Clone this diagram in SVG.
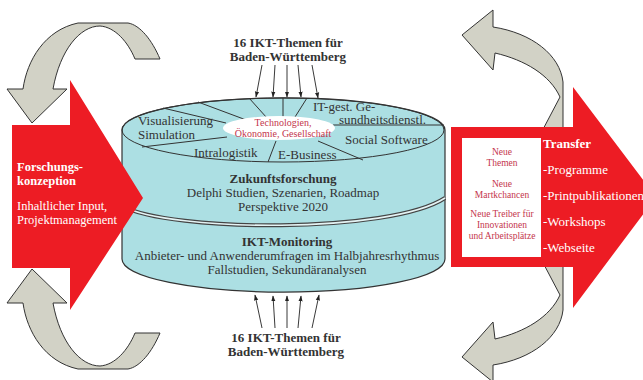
<svg xmlns="http://www.w3.org/2000/svg" width="643" height="380" viewBox="0 0 643 380">
  <defs>
    <style>
      .loop { fill: #d2d2c6; stroke: #333; stroke-width: 1; }
      .red { fill: #ed1c24; }
      .cyl { fill: #acdfe3; stroke: #333; stroke-width: 1.2; }
      .seg { fill: none; stroke: #333; stroke-width: 1; }
      .t { font-family: "Liberation Serif", serif; font-size: 13px; fill: #333; }
      .s { font-size: 12.5px; }
      .b { font-weight: bold; }
      .w { fill: #fff; }
      .r { font-family: "Liberation Serif", serif; fill: #c4354c; }
      .conn line { stroke: #222; stroke-width: 0.9; marker-end: url(#tip); }
    </style>
    <marker id="tip" viewBox="0 0 10 10" refX="9" refY="5" markerWidth="6" markerHeight="6" markerUnits="userSpaceOnUse" orient="auto">
      <path d="M0,1.5 L10,5 L0,8.5 Z" fill="#222"/>
    </marker>
    <path id="loopL" d="M32,123 L7,89 L23,89 C27,60 45,30 78,23 L128,23 C140,25 152,40 160,59 L135,59 C128,42 115,27 100,26 C80,26 60,50 53,89 L67,89 Z"/>
    <path id="loopR" d="M462,35 L493,10 L493,27 C532,33 560,55 563,82 L563,135 L540,135 L560,97 C550,75 525,60 495,53 L493,70 Z"/>
  </defs>

  <!-- grey feedback loops -->
  <g id="loop-left-top"><use href="#loopL" class="loop"/></g>
  <g id="loop-left-bottom"><use href="#loopL" class="loop" transform="translate(0,392) scale(1,-1)"/></g>
  <g id="loop-right-top"><use href="#loopR" class="loop"/></g>
  <g id="loop-right-bottom"><use href="#loopR" class="loop" transform="translate(0,392) scale(1,-1)"/></g>

  <!-- central cylinder -->
  <g id="cylinder">
    <path class="cyl" d="M122,130 L122,259 A161,33 0 0 0 445,259 L445,130 A161,32 0 0 0 122,130 Z"/>
    <ellipse class="seg" cx="283" cy="130" rx="161" ry="32"/>
    <!-- segment dividers on the lid -->
    <line class="seg" x1="163" y1="108" x2="226" y2="123"/>
    <line class="seg" x1="198" y1="102" x2="249" y2="121"/>
    <line class="seg" x1="249" y1="98" x2="267" y2="118"/>
    <line class="seg" x1="283" y1="98" x2="283" y2="117"/>
    <line class="seg" x1="307" y1="98" x2="295" y2="117"/>
    <line class="seg" x1="142" y1="147" x2="227" y2="137"/>
    <line class="seg" x1="276" y1="141" x2="268" y2="162"/>
    <line class="seg" x1="333" y1="125" x2="444" y2="125"/>
    <line class="seg" x1="318" y1="141" x2="363" y2="160"/>
    <ellipse cx="279" cy="128" rx="56" ry="12" fill="#fff"/>
    <!-- double separator between the two layers -->
    <path d="M122,206 C170,232 390,234 445,198" fill="none" stroke="#444" stroke-width="4"/>
    <path d="M122,206 C170,232 390,234 445,198" fill="none" stroke="#e4f3f4" stroke-width="1.6"/>

    <text class="r" font-size="10" text-anchor="middle" x="283" y="125.5">Technologien,</text>
    <text class="r" font-size="10" text-anchor="middle" x="283" y="136.5">Ökonomie, Gesellschaft</text>
    <text class="t" font-size="12" x="138" y="125">Visualisierung</text>
    <text class="t" font-size="12" x="138" y="139">Simulation</text>
    <text class="t" x="194" y="157">Intralogistik</text>
    <text class="t" x="278" y="159">E-Business</text>
    <text class="t" x="313" y="110.5">IT-gest. Ge-</text>
    <text class="t" x="339" y="124">sundheitsdienstl.</text>
    <text class="t" x="345" y="144">Social Software</text>

    <text class="t b" text-anchor="middle" x="283" y="183">Zukunftsforschung</text>
    <text class="t" text-anchor="middle" x="283" y="197">Delphi Studien, Szenarien, Roadmap</text>
    <text class="t" text-anchor="middle" x="283" y="211">Perspektive 2020</text>
    <text class="t b" text-anchor="middle" x="287" y="246">IKT-Monitoring</text>
    <text class="t" text-anchor="middle" x="287" y="260">Anbieter- und Anwenderumfragen im Halbjahresrhythmus</text>
    <text class="t" text-anchor="middle" x="287" y="274">Fallstudien, Sekundäranalysen</text>
  </g>

  <!-- input arrow: research conception -->
  <g id="forschungskonzeption">
    <polygon class="red" points="12,125 70,125 70,80 143,198 70,310 70,268 12,268"/>
    <text class="t s b w" x="17" y="171">Forschungs-</text>
    <text class="t s b w" x="17" y="185">konzeption</text>
    <text class="t s w" x="17" y="210">Inhaltlicher Input,</text>
    <text class="t s w" x="17" y="224">Projektmanagement</text>
  </g>

  <!-- output arrow: transfer -->
  <g id="transfer">
    <polygon class="red" points="451,127 573,127 573,87 656,197 573,308 573,267 451,267"/>
    <rect x="462" y="138" width="79" height="119" fill="#fff"/>
    <g class="r" font-size="9.5" text-anchor="middle">
      <text x="502" y="155">Neue</text>
      <text x="502" y="166">Themen</text>
      <text x="502" y="186.5">Neue</text>
      <text x="502" y="197.5">Martkchancen</text>
      <text x="502" y="217">Neue Treiber für</text>
      <text x="502" y="228">Innovationen</text>
      <text x="502" y="239">und Arbeitsplätze</text>
    </g>
    <text class="t b w" x="543" y="148">Transfer</text>
    <text class="t w" x="543" y="174">-Programme</text>
    <text class="t w" x="543" y="200">-Printpublikationen</text>
    <text class="t w" x="543" y="226">-Workshops</text>
    <text class="t w" x="543" y="252">-Webseite</text>
  </g>

  <!-- topic sources -->
  <g id="themen-oben">
    <text class="t b" font-size="12" text-anchor="middle" x="288" y="47">16 IKT-Themen für</text>
    <text class="t b" font-size="12" text-anchor="middle" x="288" y="61">Baden-Württemberg</text>
  </g>
  <g id="themen-unten">
    <text class="t b" font-size="12" text-anchor="middle" x="286" y="342">16 IKT-Themen für</text>
    <text class="t b" font-size="12" text-anchor="middle" x="286" y="356">Baden-Württemberg</text>
  </g>

  <g id="connectors" class="conn">
    <line x1="262" y1="65" x2="256" y2="97"/>
    <line x1="275" y1="65" x2="273" y2="97"/>
    <line x1="287" y1="65" x2="287" y2="97"/>
    <line x1="298" y1="65" x2="301" y2="97"/>
    <line x1="312" y1="65" x2="318" y2="98"/>
    <line x1="262" y1="328" x2="255" y2="295"/>
    <line x1="275" y1="328" x2="273" y2="296"/>
    <line x1="287" y1="328" x2="287" y2="296"/>
    <line x1="298" y1="328" x2="301" y2="296"/>
    <line x1="312" y1="328" x2="319" y2="295"/>
  </g>
</svg>
